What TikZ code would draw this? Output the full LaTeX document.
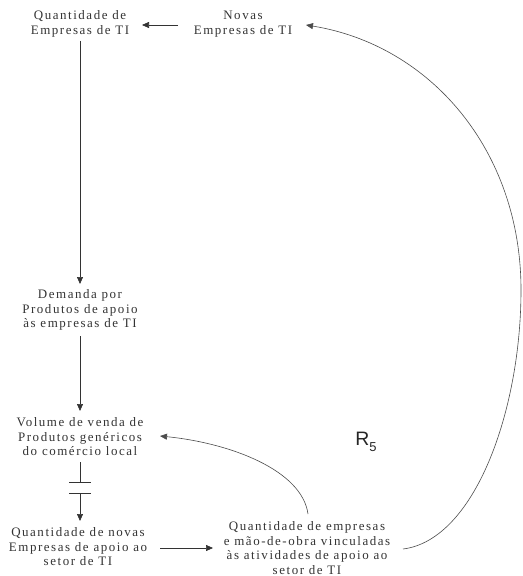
\documentclass[tikz,border=0pt]{standalone}
\usepackage{fontspec}
\setmainfont{Liberation Serif}[LetterSpace=12]
\setsansfont{Liberation Sans}
\usetikzlibrary{arrows.meta}
\begin{document}
\begin{tikzpicture}[x=1bp,y=-1bp,
  lbl/.style={align=center,font=\fontsize{13}{14.5}\selectfont,inner sep=1bp,text=black!80},
  conn/.style={draw=black!80,line width=0.7bp,-{Triangle[length=7bp,width=6bp]}},
  curvec/.style={draw=black!70,line width=0.6bp,-{Triangle[length=7bp,width=6bp]}}]
\useasboundingbox (0,0) rectangle (523,576);
\node[lbl] (qe) at (80,24) {Quantidade de\\Empresas de TI};
\node[lbl] (ne) at (243,24) {Novas\\Empresas de TI};
\node[lbl] (dp) at (80,310) {Demanda por\\Produtos de apoio\\às empresas de TI};
\node[lbl] (vv) at (80,437) {Volume de venda de\\Produtos genéricos\\do comércio local};
\node[lbl] (qn) at (78,547) {Quantidade de novas\\Empresas de apoio ao\\setor de TI};
\node[lbl] (qm) at (307,548) {Quantidade de empresas\\e mão-de-obra vinculadas\\às atividades de apoio ao\\setor de TI};
\node[font=\sffamily\fontsize{19.5}{20}\selectfont,text=black!85,inner sep=0pt] (r5) at (366,442) {R\raisebox{-0.28em}{\fontsize{13}{13}\selectfont 5}};
\coordinate (neS) at (178,25);
\coordinate (qeE) at (142,25);
\draw[conn] (neS) -- (qeE);
\draw[conn] (80,41) -- (80,284);
\draw[conn] (80,336) -- (80,411);
\coordinate (d1) at (80,462);
\coordinate (d2) at (80,493);
\draw[draw=black!80,line width=0.7bp] (d1) -- (80,482) (69,482) -- (91,482) (69,493) -- (91,493);
\draw[conn] (d2) -- (80,521);
\coordinate (qnE) at (160,548);
\coordinate (qmW) at (213,548);
\draw[conn] (qnE) -- (qmW);
\coordinate (qmN) at (308,514);
\coordinate (vvE) at (160,436);
\draw[curvec] (qmN) .. controls (302,470) and (230,443) .. (vvE);
\coordinate (qmE) at (403,549);
\coordinate (neE) at (306,25);
\draw[curvec] (qmE) .. controls (475,540) and (521,410) .. (521,290) .. controls (521,150) and (430,45) .. (neE);
\end{tikzpicture}
\end{document}
